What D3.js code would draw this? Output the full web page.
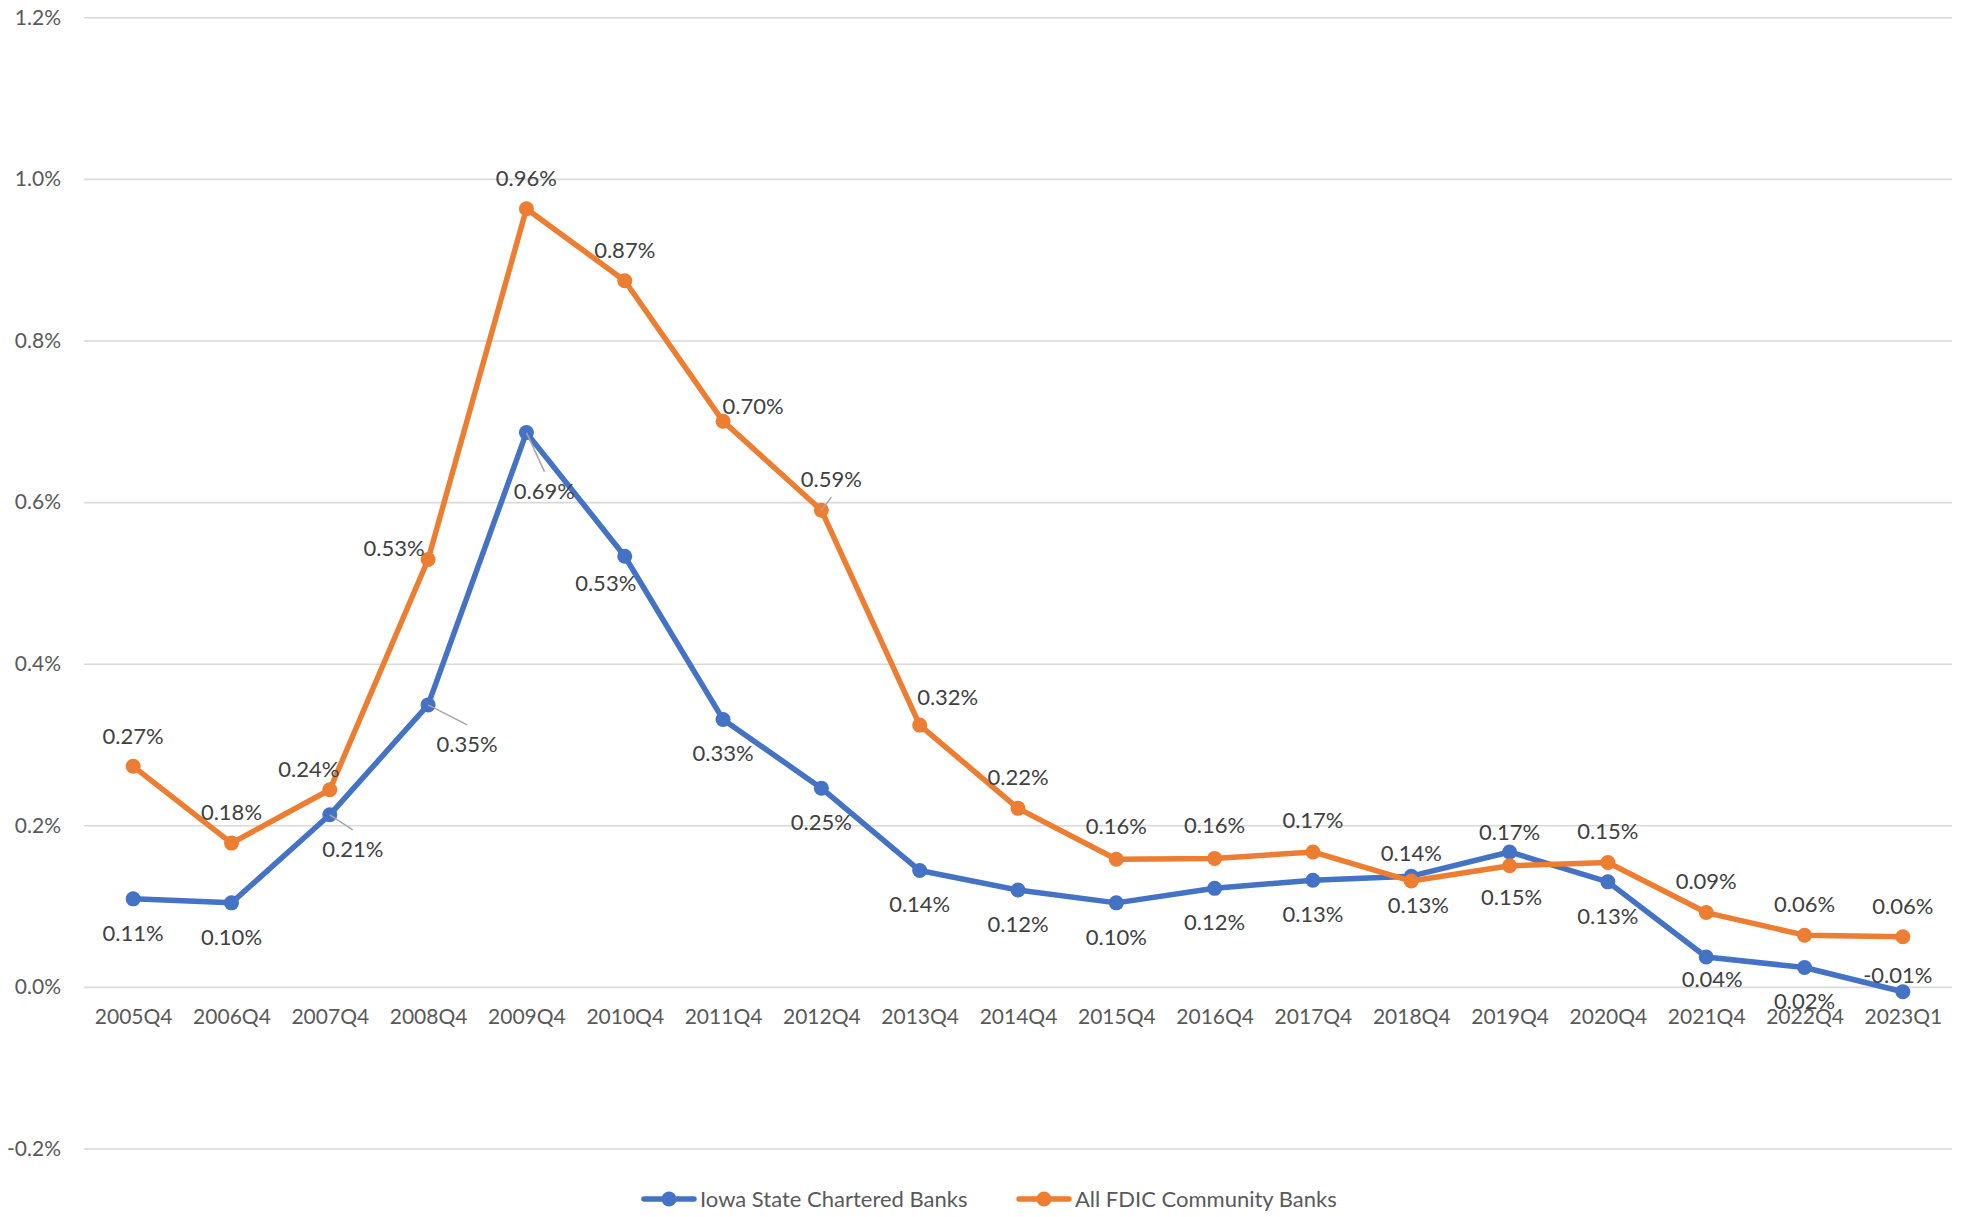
<!DOCTYPE html>
<html>
<head>
<meta charset="utf-8">
<script src="https://cdn.jsdelivr.net/npm/d3@7/dist/d3.min.js"></script>
<style>
  html, body { margin: 0; padding: 0; background: #fff; }
  svg { display: block; font-family: Lato, "Open Sans", sans-serif; }
</style>
</head>
<body>
<svg id="chart" width="1973" height="1217"></svg>
<script>
// ---- data ----
const categories = ["2005Q4","2006Q4","2007Q4","2008Q4","2009Q4","2010Q4","2011Q4","2012Q4","2013Q4","2014Q4","2015Q4","2016Q4","2017Q4","2018Q4","2019Q4","2020Q4","2021Q4","2022Q4","2023Q1"];
const iowaValues = [0.109, 0.104, 0.213, 0.349, 0.686, 0.533, 0.331, 0.246, 0.144, 0.120, 0.104, 0.122, 0.132, 0.137, 0.167, 0.130, 0.037, 0.024, -0.006];
const fdicValues = [0.273, 0.178, 0.244, 0.529, 0.963, 0.874, 0.700, 0.590, 0.324, 0.221, 0.158, 0.159, 0.167, 0.131, 0.150, 0.154, 0.092, 0.064, 0.062];
const seriesNames = ["Iowa State Chartered Banks", "All FDIC Community Banks"];
const yTicks = [-0.2, 0.0, 0.2, 0.4, 0.6, 0.8, 1.0, 1.2];

// ---- layout / style (not data) ----
const W = 1973, H = 1217;
const plot = { left: 84, right: 1952, top: 17.3, bottom: 1148.5 };
const colors = ["#4472C4", "#ED7D31"];
// label placement offsets [dx, dy, leader]
const labelDefaults = [[0, 34], [0, -31]];
const labelOverrides = [
  { "2007Q4": [23, 34, true], "2008Q4": [39, 39, true], "2009Q4": [18, 58, true], "2010Q4": [-19, 27],
    "2018Q4": [0, -23], "2019Q4": [0, -20], "2021Q4": [6, 22], "2023Q1": [-5, -17] },
  { "2005Q4": [0, -30], "2007Q4": [-21, -21], "2008Q4": [-34, -11], "2011Q4": [30, -15], "2012Q4": [10, -31, true],
    "2013Q4": [28, -28], "2018Q4": [7, 24], "2019Q4": [2, 31], "2015Q4": [0, -33], "2016Q4": [0, -33], "2017Q4": [0, -32], "2020Q4": [0, -31] }
];

const svg = d3.select("#chart");

const x = d3.scalePoint().domain(categories).range([plot.left, plot.right]).padding(0.5);
const y = d3.scaleLinear().domain([-0.2, 1.2]).range([plot.bottom, plot.top]);

// y axis with gridlines
const yAxis = svg.append("g")
  .attr("transform", `translate(${plot.left},0)`)
  .call(d3.axisLeft(y).tickValues(yTicks).tickSize(-(plot.right - plot.left)).tickPadding(23)
    .tickFormat(d => d.toFixed(1) + "%"));
yAxis.select(".domain").remove();
yAxis.selectAll(".tick line").attr("stroke", "#d9d9d9").attr("stroke-width", 1.6);
yAxis.selectAll(".tick text").attr("fill", "#595959").style("font-size", "21px").style("font-family", "Lato");

// x axis labels
const xAxis = svg.append("g")
  .attr("transform", `translate(0,${y(0)})`)
  .call(d3.axisBottom(x).tickSize(0).tickPadding(22));
xAxis.select(".domain").remove();
xAxis.selectAll(".tick text").attr("fill", "#595959").style("font-size", "21px").style("font-family", "Lato");

const series = [iowaValues, fdicValues];
const line = d3.line().x((d, i) => x(categories[i])).y(d => y(d));

series.forEach((vals, s) => {
  const g = svg.append("g");
  g.append("path").datum(vals)
    .attr("d", line).attr("fill", "none")
    .attr("stroke", colors[s]).attr("stroke-width", 5.5)
    .attr("stroke-linejoin", "round").attr("stroke-linecap", "round");
  g.selectAll("circle").data(vals).join("circle")
    .attr("cx", (d, i) => x(categories[i])).attr("cy", d => y(d))
    .attr("r", 7.5).attr("fill", colors[s]);
});

// data labels
const labelG = svg.append("g");
series.forEach((vals, s) => {
  vals.forEach((v, i) => {
    const c = categories[i];
    const o = labelOverrides[s][c] || labelDefaults[s];
    const px = x(c), py = y(v);
    const lx = px + o[0], ly = py + o[1];
    if (o[2]) {
      const ey = o[1] > 0 ? ly - 19 : ly + 18;
      labelG.append("line").attr("x1", px).attr("y1", py).attr("x2", lx).attr("y2", ey)
        .attr("stroke", "#a6a6a6").attr("stroke-width", 1.5);
    }
    labelG.append("text")
      .attr("x", lx).attr("y", ly).attr("dy", "0.36em")
      .attr("text-anchor", "middle")
      .attr("fill", "#404040").style("font-size", "22px")
      .text(v.toFixed(2) + "%");
  });
});

// legend
const legendItems = [{ x0: 644, tx: 700 }, { x0: 1019, tx: 1075 }];
const legY = 1199;
const leg = svg.append("g");
seriesNames.forEach((name, s) => {
  const it = legendItems[s];
  leg.append("line").attr("x1", it.x0).attr("x2", it.x0 + 50).attr("y1", legY).attr("y2", legY)
    .attr("stroke", colors[s]).attr("stroke-width", 5.5).attr("stroke-linecap", "round");
  leg.append("circle").attr("cx", it.x0 + 25).attr("cy", legY).attr("r", 7.5).attr("fill", colors[s]);
  leg.append("text").attr("x", it.tx).attr("y", legY).attr("dy", "0.36em")
    .attr("fill", "#595959").style("font-size", "22px").text(name);
});
</script>
</body>
</html>
